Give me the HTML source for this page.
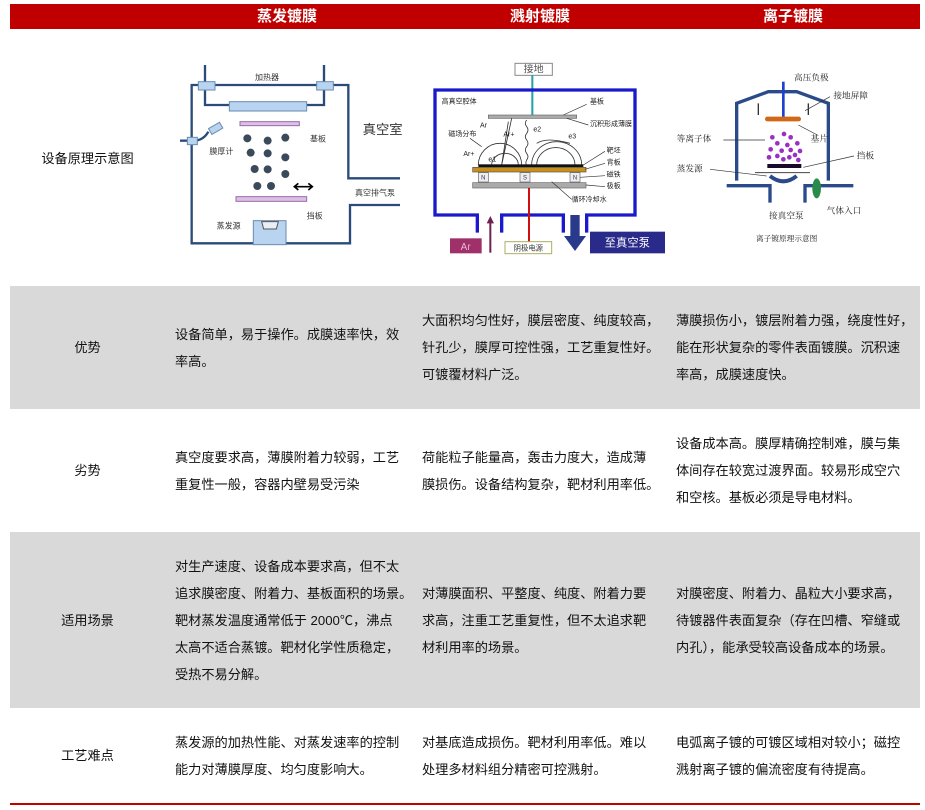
<!DOCTYPE html>
<html><head><meta charset="utf-8"><style>
*{margin:0;padding:0;box-sizing:border-box}
body{width:925px;height:810px;background:#fff;position:relative;overflow:hidden;font-family:"Liberation Sans","Noto Sans CJK SC",sans-serif;color:#111}
.hdr{position:absolute;left:10px;top:4px;width:910px;height:25px;background:#c00000}
.ht{position:absolute;top:4px;height:25px;line-height:25px;color:#fff;font-weight:bold;font-size:15px;text-align:center;width:200px}
.row{position:absolute;left:10px;width:910px}
.g{background:#d9d9d9}
.c{position:absolute;top:0;height:100%;display:flex;align-items:center;font-size:13.2px;line-height:27px;white-space:nowrap}
.l{left:0;width:155px;justify-content:center}
.a{left:165px}.b{left:412px}.d{left:666px}
svg text{font-family:"Liberation Sans","Noto Sans CJK SC",sans-serif}
.serif text{font-family:"Liberation Serif","Noto Serif CJK SC",serif}
</style></head><body>
<div class="hdr"></div>
<div class="ht" style="left:187px">蒸发镀膜</div>
<div class="ht" style="left:440px">溅射镀膜</div>
<div class="ht" style="left:693px">离子镀膜</div>

<div class="row" style="top:30px;height:256px"><div class="c l">设备原理示意图</div></div>

<svg style="position:absolute;left:170px;top:50px" width="250" height="210" viewBox="0 0 750 630">
<g fill="none" stroke="#2a4a7a" stroke-width="7">
<path d="M690 385H535V105H65V580H540V465H690"/>
<path d="M105 45V165H462V45"/>
<path d="M30 272H65"/><path d="M70 272 Q100 272 115 245"/>
</g>
<g fill="#b8d4f0" stroke="#6a8ab0" stroke-width="3">
<rect x="85" y="95" width="50" height="25"/><rect x="440" y="95" width="50" height="25"/>
<rect x="178" y="155" width="232" height="28"/>
<rect x="52" y="262" width="30" height="22"/>
<rect x="118" y="225" width="38" height="20" transform="rotate(-30 137 235)"/>
<rect x="250" y="512" width="98" height="72"/>
</g>
<path d="M275 515h50l-6 22h-38z" fill="#e8eef4" stroke="#555" stroke-width="3"/>
<g fill="#dcc0e6" stroke="#9a6aa8" stroke-width="3"><rect x="210" y="215" width="178" height="12"/><rect x="198" y="440" width="212" height="14"/></g>
<g fill="#3a4a5a"><circle cx="232" cy="265" r="12"/><circle cx="293" cy="272" r="12"/><circle cx="346" cy="263" r="12"/><circle cx="242" cy="308" r="12"/><circle cx="293" cy="310" r="12"/><circle cx="346" cy="322" r="12"/><circle cx="254" cy="357" r="12"/><circle cx="293" cy="358" r="12"/><circle cx="346" cy="372" r="12"/><circle cx="262" cy="408" r="12"/><circle cx="303" cy="408" r="12"/></g>
<path d="M375 410H425M385 400l-12 10 12 10M415 400l12 10-12 10" stroke="#000" stroke-width="5" fill="none"/>
<g font-size="24" fill="#333"><text x="255" y="90">加热器</text><text x="420" y="275">基板</text><text x="118" y="312">膜厚计</text><text x="555" y="437">真空排气泵</text><text x="410" y="505">挡板</text><text x="140" y="535">蒸发源</text></g>
<text x="578" y="252" font-size="40" fill="#333">真空室</text>
</svg>

<svg style="position:absolute;left:420px;top:50px" width="250" height="210" viewBox="0 0 750 630">
<rect x="285" y="40" width="112" height="36" fill="#fff" stroke="#888" stroke-width="3"/>
<text x="341" y="68" font-size="30" text-anchor="middle" fill="#555">接地</text>
<path d="M337 76V200" stroke="#20a0a8" stroke-width="6"/>
<g fill="none" stroke="#1a1acc" stroke-width="10"><path d="M172 548V495H45V120H645V495H500V548"/><path d="M245 548V495H430V548"/></g>
<rect x="205" y="195" width="265" height="10" fill="#aaa" stroke="#666" stroke-width="2"/>
<g fill="none" stroke="#333" stroke-width="2.5"><path d="M175 345A65 65 0 0 1 305 345"/><path d="M335 345A75 70 0 0 1 485 345"/><path d="M215 345A40 35 0 0 1 295 345"/><path d="M350 345A55 50 0 0 1 465 345"/><path d="M320 210q-8 10 0 20q8 10 0 20q-8 10 0 20q8 10 0 20q-8 10 0 20q8 10 0 20q-5 10 0 15"/><path d="M245 345L275 205M245 345L265 215"/><path d="M350 280q30-20 100 0"/></g>
<rect x="175" y="343" width="315" height="9" fill="#111"/>
<rect x="158" y="352" width="340" height="14" fill="#c8901a" stroke="#555" stroke-width="2"/>
<g fill="#eee" stroke="#666" stroke-width="2"><rect x="175" y="368" width="30" height="28"/><rect x="300" y="368" width="30" height="28"/><rect x="450" y="368" width="30" height="28"/></g>
<g font-size="18" fill="#336" text-anchor="middle"><text x="190" y="389">N</text><text x="315" y="389">S</text><text x="465" y="389">N</text></g>
<rect x="158" y="398" width="340" height="16" fill="#aaa" stroke="#666" stroke-width="2"/>
<path d="M327 414V600" stroke="#d01010" stroke-width="6"/>
<rect x="90" y="565" width="95" height="45" fill="#a0306a"/><text x="137" y="600" font-size="30" fill="#e8b8d0" text-anchor="middle">Ar</text>
<path d="M211 608V515" stroke="#702050" stroke-width="6"/><path d="M200 520l11-22 11 22z" fill="#702050"/>
<rect x="255" y="575" width="140" height="36" fill="#fff" stroke="#aab060" stroke-width="3"/><text x="325" y="601" font-size="22" text-anchor="middle" fill="#333">阴极电源</text>
<rect x="451" y="495" width="28" height="65" fill="#2a3a8a"/><path d="M432 558h66l-33 45z" fill="#2a3a8a"/>
<rect x="510" y="545" width="225" height="65" fill="#2a2a8a"/><text x="622" y="590" font-size="34" fill="#fff" text-anchor="middle">至真空泵</text>
<g font-size="21" fill="#222"><text x="65" y="160">高真空腔体</text><text x="510" y="160">基板</text><text x="510" y="228">沉积形成薄膜</text><text x="85" y="258">磁场分布</text><text x="560" y="308">靶坯</text><text x="560" y="343">背板</text><text x="560" y="380">磁铁</text><text x="560" y="414">极板</text><text x="455" y="455">循环冷却水</text><text x="180" y="232">Ar</text><text x="130" y="318">Ar+</text><text x="340" y="245">e2</text><text x="445" y="265">e3</text><text x="205" y="335">e1</text><text x="250" y="260">Ar+</text></g>
<g stroke="#333" stroke-width="2"><path d="M500 163L430 195M505 225L440 205M150 265L185 290M555 304L490 345M555 340L495 358M555 377L480 382M555 410L498 405M455 448L395 395"/></g>
</svg>

<svg class="serif" style="position:absolute;left:670px;top:50px" width="220" height="210" viewBox="-60 0 660 630">
<g fill="none" stroke="#2a4a8a" stroke-width="10"><path d="M140 392V160L235 125H320L415 160V392"/><path d="M110 407H240V458"/><path d="M345 458V407H490"/></g>
<path d="M280 95V205" stroke="#2040d0" stroke-width="8"/>
<path d="M205 160V195M355 160V195" stroke="#333" stroke-width="4"/>
<rect x="225" y="200" width="108" height="14" rx="7" fill="#d06818"/>
<g fill="#9a30c0"><circle cx="247" cy="262" r="7"/><circle cx="282" cy="252" r="7"/><circle cx="302" cy="262" r="7"/><circle cx="262" cy="280" r="7"/><circle cx="292" cy="285" r="7"/><circle cx="322" cy="280" r="7"/><circle cx="242" cy="298" r="7"/><circle cx="275" cy="302" r="7"/><circle cx="302" cy="300" r="7"/><circle cx="330" cy="303" r="7"/><circle cx="237" cy="322" r="7"/><circle cx="262" cy="318" r="7"/><circle cx="280" cy="328" r="7"/><circle cx="298" cy="322" r="7"/><circle cx="315" cy="315" r="7"/><circle cx="325" cy="330" r="7"/></g>
<rect x="232" y="342" width="102" height="12" fill="#1a0a2a"/>
<path d="M195 368H360" stroke="#444" stroke-width="3"/>
<path d="M240 378Q280 410 320 378" fill="none" stroke="#2a4a8a" stroke-width="12"/>
<ellipse cx="380" cy="415" rx="13" ry="30" fill="#2a8a4a"/>
<g stroke="#333" stroke-width="2" fill="none"><path d="M345 182L420 140M325 225L382 255M340 352L492 318M100 270H225M60 358L230 378"/></g>
<g font-size="26" fill="#222"><text x="312" y="92">高压负极</text><text x="430" y="145">接地屏障</text><text x="362" y="275">基片</text><text x="500" y="325">挡板</text><text x="-40" y="275">等离子体</text><text x="-40" y="365">蒸发源</text><text x="237" y="505">接真空泵</text><text x="410" y="490">气体入口</text><text x="198" y="573" font-size="23">离子镀原理示意图</text></g>
</svg>

<div class="row g" style="top:286px;height:123px">
<div class="c l">优势</div>
<div class="c a">设备简单，易于操作。成膜速率快，效<br>率高。</div>
<div class="c b">大面积均匀性好，膜层密度、纯度较高，<br>针孔少，膜厚可控性强，工艺重复性好。<br>可镀覆材料广泛。</div>
<div class="c d">薄膜损伤小，镀层附着力强，绕度性好，<br>能在形状复杂的零件表面镀膜。沉积速<br>率高，成膜速度快。</div>
</div>
<div class="row" style="top:409px;height:123px">
<div class="c l">劣势</div>
<div class="c a">真空度要求高，薄膜附着力较弱，工艺<br>重复性一般，容器内壁易受污染</div>
<div class="c b">荷能粒子能量高，轰击力度大，造成薄<br>膜损伤。设备结构复杂，靶材利用率低。</div>
<div class="c d">设备成本高。膜厚精确控制难，膜与集<br>体间存在较宽过渡界面。较易形成空穴<br>和空核。基板必须是导电材料。</div>
</div>
<div class="row g" style="top:532px;height:176px">
<div class="c l">适用场景</div>
<div class="c a">对生产速度、设备成本要求高，但不太<br>追求膜密度、附着力、基板面积的场景。<br>靶材蒸发温度通常低于 2000℃，沸点<br>太高不适合蒸镀。靶材化学性质稳定，<br>受热不易分解。</div>
<div class="c b">对薄膜面积、平整度、纯度、附着力要<br>求高，注重工艺重复性，但不太追求靶<br>材利用率的场景。</div>
<div class="c d">对膜密度、附着力、晶粒大小要求高，<br>待镀器件表面复杂（存在凹槽、窄缝或<br>内孔），能承受较高设备成本的场景。</div>
</div>
<div class="row" style="top:708px;height:95px">
<div class="c l">工艺难点</div>
<div class="c a">蒸发源的加热性能、对蒸发速率的控制<br>能力对薄膜厚度、均匀度影响大。</div>
<div class="c b">对基底造成损伤。靶材利用率低。难以<br>处理多材料组分精密可控溅射。</div>
<div class="c d">电弧离子镀的可镀区域相对较小；磁控<br>溅射离子镀的偏流密度有待提高。</div>
</div>
<div style="position:absolute;left:10px;top:803px;width:910px;height:2px;background:#c00000"></div>
</body></html>
